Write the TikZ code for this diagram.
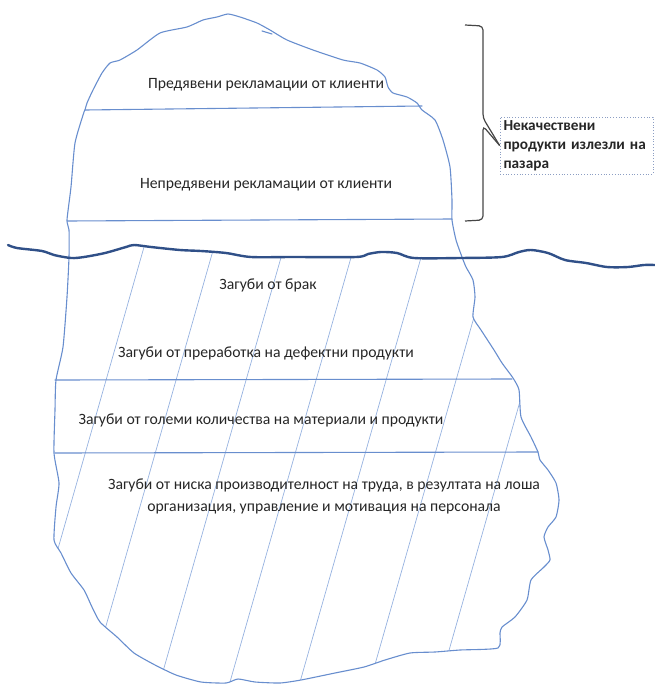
\documentclass[tikz,border=0pt]{standalone}
\usepackage{fontspec}
\setmainfont{Carlito}
\definecolor{ice}{RGB}{104,142,206}
\definecolor{hatchc}{RGB}{150,178,224}
\definecolor{water}{RGB}{48,80,136}
\definecolor{txt}{RGB}{38,38,38}
\definecolor{boxc}{RGB}{140,158,195}
\definecolor{brc}{RGB}{70,70,70}
\tikzset{
  iceline/.style={draw=ice, line width=1.1pt, line join=round, line cap=round},
  hatchline/.style={draw=hatchc, line width=0.7pt},
  waterline/.style={draw=water, line width=2.4pt, line cap=round, line join=round},
  lbl/.style={font=\fontsize{15.7}{22}\selectfont, text=txt, inner sep=0pt, align=center},
  notebox/.style={draw=boxc, dotted, line width=0.8pt, font=\bfseries\fontsize{15.3}{19}\selectfont, text=txt,
     text width=146pt, align=left, inner xsep=3.5pt, inner ysep=2pt, minimum height=57pt},
  bracel/.style={draw=brc, line width=1.2pt, rounded corners=4pt}
}
\def\icepath{plot[smooth cycle, tension=0.35] coordinates {
 (85,110) (87,103) (93,90) (102,73) (110,63) (120,60) (137,50) (160,33) (187,27) (203,20) (217,17) (228,14)
 (240,17) (257,23) (270,30) (287,40) (313,50) (343,60) (360,63) (377,70) (385,77) (388,87) (393,93) (407,97)
 (417,103) (422,110) (435,120) (443,140) (450,167) (452,200) (452,220) (456,240) (462,257) (466,267) (473,280)
 (475,297) (473,317) (481,330) (494,350) (502,363) (513,378) (519,390) (521,417) (531,437) (538,452) (540,460)
 (548,470) (556,483) (559,500) (556,517) (548,527) (544,537) (548,550) (550,560) (544,567) (531,580) (527,600)
 (515,617) (502,627) (500,633) (498,648) (460,650) (435,652) (410,653) (385,660) (364,667) (335,673) (301,680)
 (280,683) (255,682) (238,679) (226,683) (201,682) (176,675) (155,665) (134,653) (117,637) (100,622) (92,607)
 (84,590) (71,573) (61,553) (54,540) (56,507) (59,483) (54,453) (55,410) (56,380) (63,347) (67,297) (69,257)
 (69,230) (67,220) (71,187) (75,143) (84,112)}}
\begin{document}
\begin{tikzpicture}[x=1pt, y=-1pt]
\useasboundingbox (0,0) rectangle (655,685);
% hatching below the water line
\begin{scope}
  \clip \icepath;
  \clip (0,246) -- (42,250) -- (71,257) -- (105,252) -- (134,244) -- (180,249) -- (226,252) -- (251,256)
        -- (356,256) -- (381,251) -- (414,257) -- (502,256) -- (531,249) -- (565,259) -- (655,264)
        -- (655,700) -- (0,700) -- cycle;
  \foreach \x in {146,216,286,356,426,496,566}
    \draw[hatchline] (\x,240) -- ++(-130,456);
\end{scope}
% iceberg outline
\draw[iceline] \icepath;
\draw[iceline] (262,31) -- (272,34);
% layer lines
\draw[iceline] (85,110) -- (422,106);
\draw[iceline] (67,221) -- (452,219);
\draw[iceline] (55,380) -- (512,379);
\draw[iceline] (55,453) -- (538,452);
% water line
\draw[waterline] plot[smooth, tension=0.5] coordinates {
 (8,245) (17,248) (42,251) (54,255) (71,258) (84,257) (105,253) (126,247) (134,245) (151,247) (180,250)
 (201,251) (226,253) (251,257) (293,257) (356,257) (368,254) (381,252) (397,253) (414,258) (460,258)
 (502,257) (519,252) (531,250) (548,253) (565,260) (586,263) (607,267) (628,267) (644,265) (655,265)};
% texts
\node[lbl] (t1) at (266,85) {Предявени рекламации от клиенти};
\node[lbl] (t2) at (266,185) {Непредявени рекламации от клиенти};
\node[lbl] (t3) at (268,285) {Загуби от брак};
\node[lbl] (t4) at (266,353) {Загуби от преработка на дефектни продукти};
\node[lbl] (t5) at (261,420) {Загуби от големи количества на материали и продукти};
\node[lbl] (t6) at (324,496) {Загуби от ниска производителност на труда, в резултата на лоша\\организация, управление и мотивация на персонала};
% note box and brace
\node[notebox] (box) at (576.5,145.5) {Некачествени\\продукти излезли на\\пазара};
\draw[bracel] (465,25) -- (483,26) -- (483,118) -- (box.west);
\draw[bracel] (box.west) -- (483,126) -- (483,220) -- (465,221);
\end{tikzpicture}
\end{document}
